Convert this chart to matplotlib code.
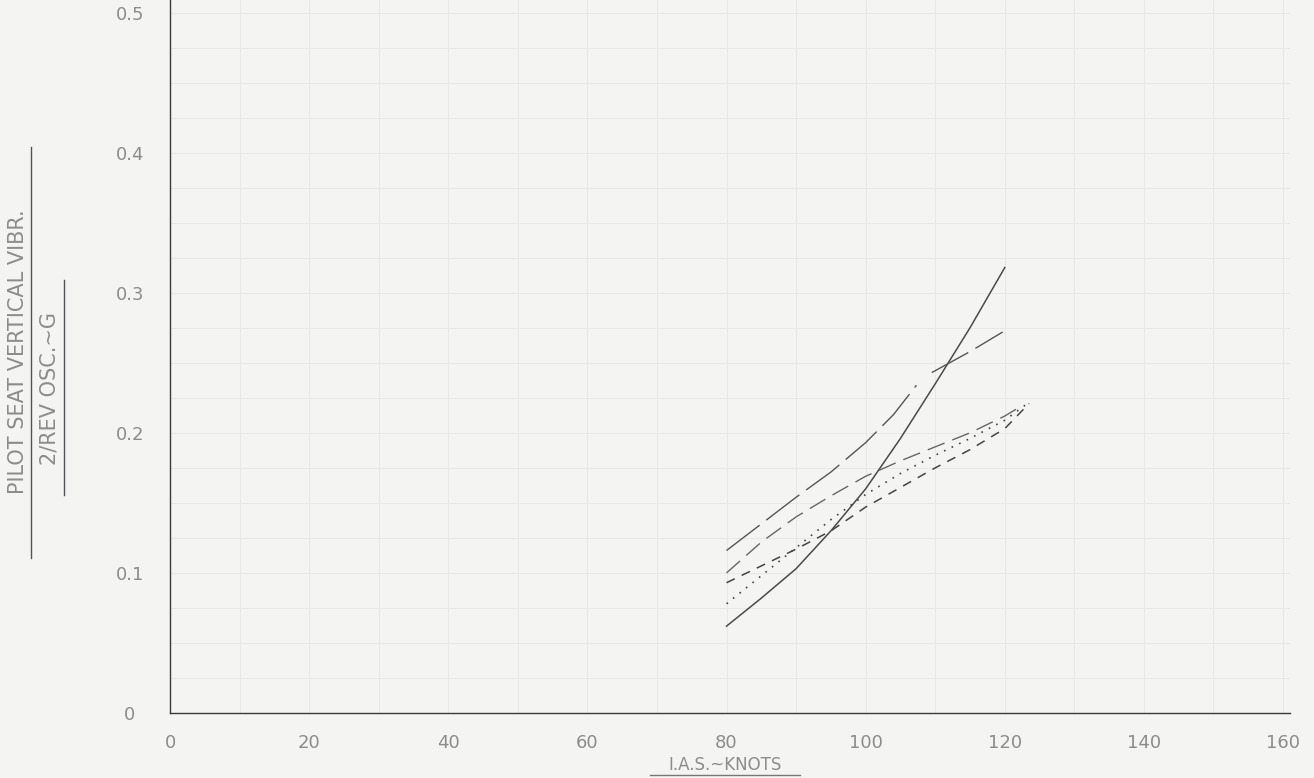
import numpy as np
import matplotlib
matplotlib.use("Agg")
import matplotlib.pyplot as plt

# ---- data ----
x_solid = [80, 85, 90, 95, 100, 105, 110, 115, 120]
y_solid = [0.062, 0.082, 0.103, 0.130, 0.160, 0.196, 0.235, 0.275, 0.318]

x_longdash = [80, 85, 90, 95, 100, 104, 107.3]
y_longdash = [0.116, 0.135, 0.154, 0.172, 0.193, 0.213, 0.234]

x_longdash_2 = [109.5, 115, 119.7]
y_longdash_2 = [0.243, 0.258, 0.272]

x_meddash = [80, 85, 90, 95, 100, 105, 110, 115, 120, 122]
y_meddash = [0.100, 0.122, 0.140, 0.155, 0.169, 0.180, 0.190, 0.200, 0.212, 0.218]

x_dotted = [80, 85, 90, 95, 100, 105, 110, 115, 120, 123]
y_dotted = [0.078, 0.098, 0.118, 0.138, 0.156, 0.171, 0.184, 0.196, 0.209, 0.220]

x_shortdash = [80, 85, 90, 95, 100, 105, 110, 115, 120, 123.5]
y_shortdash = [0.093, 0.105, 0.117, 0.130, 0.147, 0.161, 0.175, 0.188, 0.203, 0.221]

x_ticks = [0, 20, 40, 60, 80, 100, 120, 140, 160]
x_tick_labels = ["0", "20", "40", "60", "80", "100", "120", "140", "160"]
y_ticks = [0, 0.1, 0.2, 0.3, 0.4, 0.5]
y_tick_labels = ["0", "0.1", "0.2", "0.3", "0.4", "0.5"]

y_label_1 = "PILOT SEAT VERTICAL VIBR."
y_label_2 = "2/REV OSC.~G"
x_label = "I.A.S.~KNOTS"

# ---- figure ----
W, H = 1314, 778
bg = "#f4f4f2"
fig = plt.figure(figsize=(W / 100, H / 100), dpi=100, facecolor=bg)
ax = fig.add_axes([170 / W, 65 / H, 1120 / W, 713 / H])
ax.set_facecolor(bg)
ax.set_xlim(0, 161)
ax.set_ylim(0, 0.509)

# faint graph-paper grid
for gx in np.arange(10, 161, 10):
    ax.axvline(gx, color="#e8e8e6", lw=0.7, zorder=0)
for gy in np.arange(0.025, 0.51, 0.025):
    ax.axhline(gy, color="#e8e8e6", lw=0.7, zorder=0)

ax.plot(x_solid, y_solid, color="#4a4a4a", lw=1.1, ls="-")
ax.plot(x_longdash, y_longdash, color="#555555", lw=1.0, dashes=(30, 6))
ax.plot(x_longdash_2, y_longdash_2, color="#555555", lw=1.0, dashes=(30, 6))
ax.plot(x_meddash, y_meddash, color="#666666", lw=1.0, dashes=(13, 6))
ax.plot(x_dotted, y_dotted, color="#444444", lw=1.2, dashes=(1, 4))
ax.plot(x_shortdash, y_shortdash, color="#444444", lw=1.1, dashes=(6, 5))

for s in ["top", "right"]:
    ax.spines[s].set_visible(False)
for s in ["left", "bottom"]:
    ax.spines[s].set_color("#3a3a3a")
    ax.spines[s].set_linewidth(1.0)

tc = "#8c8c8c"
ax.set_xticks(x_ticks)
ax.set_xticklabels(x_tick_labels)
ax.set_yticks(y_ticks)
ax.set_yticklabels(y_tick_labels, ha="center")
ax.tick_params(axis="both", length=0, colors=tc, labelsize=13)
ax.tick_params(axis="x", pad=15)
ax.tick_params(axis="y", pad=29)

fig.text(18 / W, 1 - 352 / H, y_label_1, rotation=90, ha="center", va="center",
         fontsize=15, color=tc)
fig.text(50 / W, 1 - 388 / H, y_label_2, rotation=90, ha="center", va="center",
         fontsize=15, color=tc)
fig.add_artist(plt.Line2D([31 / W, 31 / W], [1 - 558 / H, 1 - 147 / H],
                          color="#555555", lw=1.0))
fig.add_artist(plt.Line2D([64 / W, 64 / W], [1 - 495 / H, 1 - 280 / H],
                          color="#555555", lw=1.0))
fig.text(725 / W, 1 - 765 / H, x_label, ha="center", va="center",
         fontsize=12, color=tc)
fig.add_artist(plt.Line2D([650 / W, 800 / W], [1 - 775 / H, 1 - 775 / H],
                          color="#777777", lw=1.0))

fig.savefig("out.png", dpi=100, facecolor=bg)
